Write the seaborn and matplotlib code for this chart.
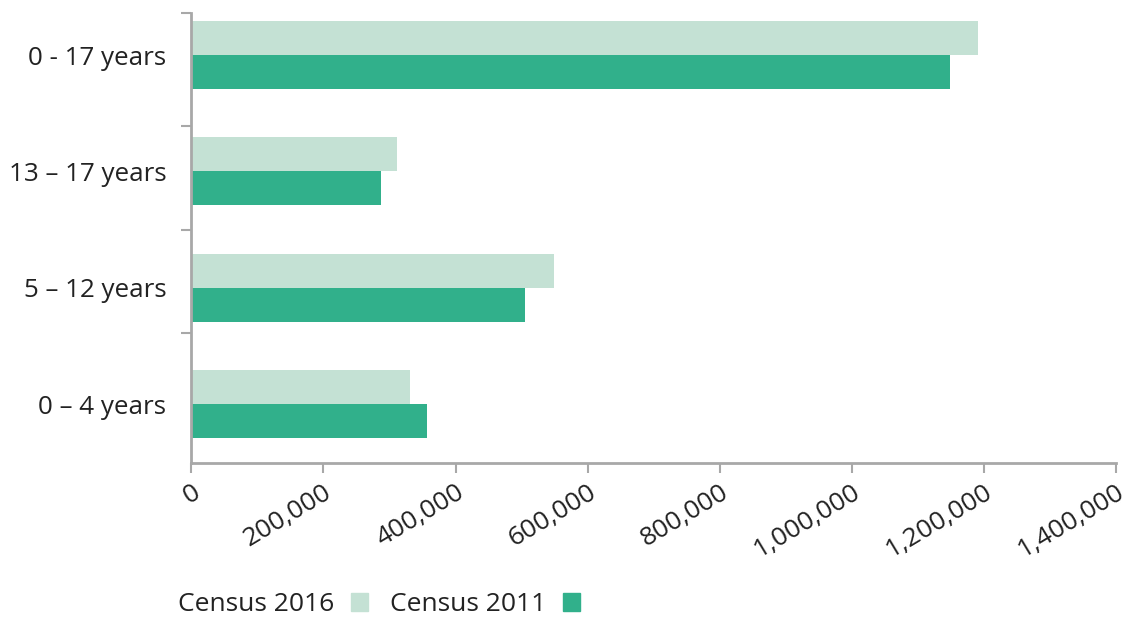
import matplotlib
matplotlib.use("Agg")
import matplotlib.pyplot as plt
from matplotlib.ticker import FixedLocator, FuncFormatter
import seaborn as sns
import pandas as pd

# data
age_groups = ["0 - 17 years", "13 – 17 years", "5 – 12 years", "0 – 4 years"]
census_2016 = [1191500, 311300, 549200, 331000]
census_2011 = [1149100, 287100, 505200, 356800]
series_names = ["Census 2016", "Census 2011"]
series_colors = ["#c4e1d4", "#31b08b"]
x_ticks = [0, 200000, 400000, 600000, 800000, 1000000, 1200000, 1400000]

df = pd.DataFrame({
    "age": age_groups * 2,
    "value": census_2016 + census_2011,
    "census": [series_names[0]] * 4 + [series_names[1]] * 4,
})

sns.set_style("white")
plt.rcParams["font.family"] = ["Open Sans", "DejaVu Sans"]
text_color = "#222222"
axis_color = "#a8a8a8"

fig = plt.figure(figsize=(11.31, 6.17), dpi=100)
ax = fig.add_axes([0.1693, 0.2496, 0.9864 - 0.1693, 0.9789 - 0.2496])

sns.barplot(data=df, y="age", x="value", hue="census", orient="h",
            palette=series_colors, hue_order=series_names, order=age_groups,
            width=0.585, saturation=1, linewidth=0, ax=ax, legend=False)

ax.set_xlim(0, 1400000)
ax.set_ylim(3.507, -0.361)
ax.set_xlabel("")
ax.set_ylabel("")

for side in ["top", "right"]:
    ax.spines[side].set_visible(False)
for side in ["left", "bottom"]:
    ax.spines[side].set_color(axis_color)
    ax.spines[side].set_linewidth(2)

ax.xaxis.set_major_locator(FixedLocator(x_ticks))
ax.xaxis.set_major_formatter(FuncFormatter(lambda v, p: f"{int(v):,}"))
ax.tick_params(axis="x", direction="out", length=7, width=1.5, color=axis_color,
               labelsize=19, labelcolor=text_color, pad=5, bottom=True)
for lbl in ax.get_xticklabels():
    lbl.set_rotation(31)
    lbl.set_ha("right")
    lbl.set_va("top")
    lbl.set_rotation_mode("anchor")

ax.tick_params(axis="y", which="major", length=0, labelsize=18.75,
               labelcolor=text_color, pad=18)
ax.yaxis.set_minor_locator(FixedLocator([-0.361, 0.61, 1.505, 2.39]))
ax.tick_params(axis="y", which="minor", direction="out", length=7, width=1.5,
               color=axis_color, left=True)

handles = [plt.Rectangle((0, 0), 1, 1, color=c) for c in series_colors]
fig.legend(handles, series_names, loc="center left", bbox_to_anchor=(0.1365, 0.020),
           ncol=2, frameon=False, markerfirst=False, handlelength=0.64,
           handleheight=0.64, handletextpad=0.64, columnspacing=0.83,
           fontsize=19, labelcolor=text_color)

fig.savefig("out.png", dpi=100)
